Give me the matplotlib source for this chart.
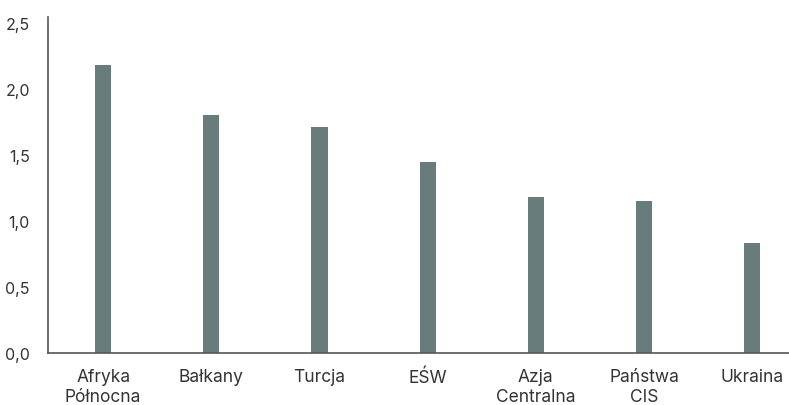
import matplotlib
matplotlib.use('Agg')
import matplotlib.pyplot as plt
import numpy as np

# dane z wykresu
regiony = ['Afryka\nPółnocna', 'Bałkany', 'Turcja', 'EŚW', 'Azja\nCentralna', 'Państwa\nCIS', 'Ukraina']
wartosci = [2.18, 1.80, 1.71, 1.45, 1.18, 1.15, 0.83]
y_ticks = [0.0, 0.5, 1.0, 1.5, 2.0, 2.5]
y_labels = ['0,0', '0,5', '1,0', '1,5', '2,0', '2,5']

plt.rcParams['font.family'] = ['Inter', 'DejaVu Sans']

fig = plt.figure(figsize=(7.89, 4.06), dpi=100)
ax = fig.add_axes([48 / 789, 52 / 406, 1 - 48 / 789, (354 - 18) / 406])

x = np.arange(len(regiony))
ax.bar(x, wartosci, width=0.15, color='#677c7b')

ax.set_xlim(-0.51, 6.34)
ax.set_ylim(0, 2.545)
ax.set_yticks(y_ticks)
ax.set_yticklabels(y_labels)
ax.set_xticks(x)
ax.set_xticklabels(regiony, linespacing=1.2)

ax.tick_params(axis='both', length=0, colors='#333333')
ax.tick_params(axis='y', pad=13, labelsize=11.5)
ax.tick_params(axis='x', pad=11, labelsize=12.5)

for s in ['top', 'right']:
    ax.spines[s].set_visible(False)
for s in ['left', 'bottom']:
    ax.spines[s].set_color('#555555')
    ax.spines[s].set_linewidth(1.2)

fig.savefig('out.png', dpi=100)
